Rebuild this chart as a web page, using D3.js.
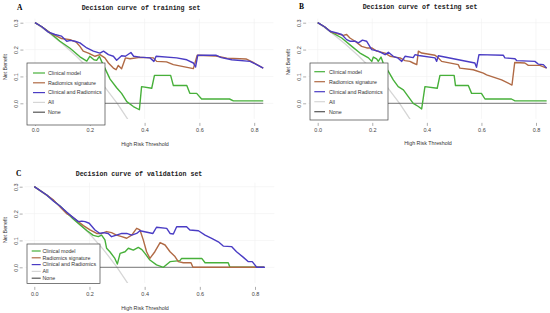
<!DOCTYPE html>
<html>
<head>
<meta charset="utf-8">
<script src="https://cdn.jsdelivr.net/npm/d3@7"></script>
<style>
  body { margin: 0; background: #fff; }
  svg { display: block; }
</style>
</head>
<body>
<svg id="chart" width="550" height="313"></svg>
<script>
// ---- data ----
const ticksX = [0, 0.2, 0.4, 0.6, 0.8];
const ticksY = [0, 0.1, 0.2, 0.3];
const legendNames = ["Clinical model", "Radiomics signature", "Clinical and Radiomics", "All", "None"];
const lineColors = ["#47b03a", "#b06a45", "#4a3cc4", "#d6d6d6", "#555555"];

// treat-all reference line (same in all three sets)
const allLine = [[0, 0.3], [0.05, 0.263], [0.1, 0.222], [0.15, 0.176], [0.2, 0.125], [0.25, 0.067], [0.3, 0.0], [0.35, -0.077]];

// A: training set
const trainClinical = [[0, 0.3], [0.025, 0.285], [0.055, 0.262], [0.091, 0.231], [0.128, 0.205], [0.164, 0.173], [0.189, 0.157],
  [0.2, 0.175], [0.215, 0.162], [0.225, 0.16], [0.235, 0.175], [0.243, 0.156], [0.255, 0.131], [0.274, 0.09], [0.298, 0.058],
  [0.316, 0.037], [0.335, 0.006], [0.359, -0.012], [0.381, -0.024], [0.389, 0.062], [0.426, 0.056], [0.436, 0.104],
  [0.495, 0.104], [0.505, 0.066], [0.554, 0.066], [0.565, 0.037], [0.59, 0.037], [0.608, 0.016], [0.71, 0.016],
  [0.724, 0.009], [0.833, 0.009]];
const trainRadiomics = [[0, 0.3], [0.025, 0.285], [0.055, 0.262], [0.079, 0.25], [0.097, 0.241], [0.128, 0.237], [0.15, 0.228],
  [0.164, 0.212], [0.176, 0.194], [0.195, 0.187], [0.219, 0.175], [0.237, 0.181], [0.255, 0.169], [0.268, 0.15],
  [0.286, 0.131], [0.296, 0.125], [0.304, 0.141], [0.316, 0.129], [0.33, 0.169], [0.347, 0.166], [0.383, 0.171],
  [0.432, 0.169], [0.444, 0.156], [0.48, 0.154], [0.505, 0.144], [0.578, 0.129], [0.592, 0.179], [0.66, 0.176],
  [0.7, 0.168], [0.77, 0.165], [0.8, 0.15], [0.833, 0.131]];
const trainCombined = [[0, 0.3], [0.025, 0.285], [0.049, 0.265], [0.073, 0.256], [0.097, 0.25], [0.116, 0.231], [0.13, 0.234],
  [0.146, 0.231], [0.164, 0.225], [0.189, 0.206], [0.213, 0.194], [0.237, 0.187], [0.25, 0.194], [0.268, 0.181],
  [0.286, 0.175], [0.298, 0.16], [0.316, 0.177], [0.33, 0.175], [0.35, 0.189], [0.36, 0.175], [0.383, 0.172],
  [0.42, 0.169], [0.434, 0.156], [0.442, 0.175], [0.517, 0.169], [0.554, 0.162], [0.578, 0.15], [0.586, 0.135],
  [0.594, 0.179], [0.66, 0.179], [0.68, 0.17], [0.718, 0.162], [0.785, 0.156], [0.809, 0.144], [0.833, 0.131]];

// B: testing set
const testClinical = [[0, 0.3], [0.025, 0.285], [0.045, 0.268], [0.088, 0.243], [0.125, 0.212], [0.155, 0.187], [0.186, 0.169],
  [0.198, 0.156], [0.204, 0.172], [0.216, 0.165], [0.222, 0.156], [0.232, 0.172], [0.24, 0.15], [0.259, 0.119],
  [0.277, 0.087], [0.295, 0.062], [0.314, 0.05], [0.332, 0.025], [0.35, 0.0], [0.369, -0.012], [0.381, -0.021],
  [0.393, 0.062], [0.438, 0.056], [0.448, 0.104], [0.5, 0.104], [0.505, 0.066], [0.552, 0.066], [0.564, 0.037],
  [0.6, 0.037], [0.613, 0.016], [0.71, 0.016], [0.723, 0.009], [0.839, 0.009]];
const testRadiomics = [[0, 0.3], [0.025, 0.285], [0.05, 0.265], [0.094, 0.253], [0.106, 0.256], [0.118, 0.243], [0.137, 0.231],
  [0.161, 0.212], [0.18, 0.206], [0.198, 0.206], [0.216, 0.194], [0.247, 0.187], [0.265, 0.175], [0.283, 0.172],
  [0.302, 0.169], [0.32, 0.159], [0.338, 0.156], [0.35, 0.15], [0.363, 0.144], [0.369, 0.194], [0.381, 0.187],
  [0.43, 0.179], [0.442, 0.169], [0.454, 0.156], [0.515, 0.144], [0.521, 0.131], [0.57, 0.125], [0.607, 0.112],
  [0.619, 0.106], [0.674, 0.087], [0.712, 0.068], [0.722, 0.152], [0.759, 0.15], [0.772, 0.141], [0.814, 0.141],
  [0.839, 0.131]];
const testCombined = [[0, 0.3], [0.025, 0.285], [0.045, 0.268], [0.07, 0.262], [0.088, 0.256], [0.106, 0.237], [0.118, 0.231],
  [0.137, 0.231], [0.149, 0.225], [0.164, 0.235], [0.179, 0.231], [0.198, 0.2], [0.222, 0.194], [0.247, 0.181],
  [0.259, 0.19], [0.277, 0.175], [0.295, 0.168], [0.308, 0.156], [0.32, 0.175], [0.35, 0.17], [0.357, 0.181],
  [0.37, 0.178], [0.43, 0.169], [0.436, 0.156], [0.442, 0.177], [0.576, 0.15], [0.582, 0.134], [0.591, 0.181],
  [0.68, 0.179], [0.686, 0.169], [0.723, 0.166], [0.729, 0.159], [0.796, 0.156], [0.808, 0.146], [0.827, 0.144],
  [0.839, 0.131]];

// C: validation set
const valClinical = [[0, 0.3], [0.045, 0.269], [0.07, 0.248], [0.093, 0.228], [0.105, 0.216], [0.117, 0.203], [0.141, 0.18],
  [0.166, 0.158], [0.19, 0.137], [0.214, 0.119], [0.232, 0.114], [0.244, 0.12], [0.256, 0.102], [0.262, 0.071],
  [0.274, 0.058], [0.292, 0.033], [0.301, 0.012], [0.311, 0.052], [0.329, 0.058], [0.341, 0.071], [0.359, 0.064],
  [0.377, 0.074], [0.39, 0.066], [0.401, 0.052], [0.419, 0.027], [0.443, 0.009], [0.468, 0.0], [0.492, 0.021],
  [0.528, 0.025], [0.534, 0.033], [0.607, 0.033], [0.619, 0.017], [0.703, 0.017], [0.709, 0.0], [0.833, 0.0]];
const valRadiomics = [[0, 0.3], [0.045, 0.269], [0.07, 0.25], [0.081, 0.238], [0.099, 0.219], [0.117, 0.2], [0.135, 0.19],
  [0.153, 0.175], [0.178, 0.155], [0.202, 0.139], [0.226, 0.126], [0.244, 0.126], [0.262, 0.133], [0.28, 0.129],
  [0.298, 0.12], [0.317, 0.114], [0.335, 0.108], [0.353, 0.12], [0.371, 0.145], [0.383, 0.139], [0.395, 0.102],
  [0.407, 0.058], [0.419, 0.033], [0.437, 0.058], [0.456, 0.092], [0.474, 0.083], [0.492, 0.058], [0.51, 0.04],
  [0.522, 0.021], [0.54, 0.017], [0.568, 0.017], [0.575, 0.0], [0.833, 0.0]];
const valCombined = [[0, 0.3], [0.045, 0.269], [0.07, 0.246], [0.093, 0.228], [0.117, 0.206], [0.141, 0.185], [0.16, 0.17],
  [0.172, 0.172], [0.184, 0.17], [0.199, 0.164], [0.22, 0.139], [0.238, 0.126], [0.25, 0.129], [0.268, 0.126],
  [0.28, 0.114], [0.298, 0.12], [0.317, 0.126], [0.335, 0.126], [0.353, 0.12], [0.371, 0.126], [0.383, 0.136],
  [0.43, 0.126], [0.443, 0.149], [0.48, 0.145], [0.492, 0.126], [0.504, 0.124], [0.516, 0.151], [0.552, 0.151],
  [0.564, 0.139], [0.595, 0.136], [0.619, 0.12], [0.643, 0.108], [0.667, 0.095], [0.685, 0.079], [0.715, 0.077],
  [0.733, 0.058], [0.758, 0.037], [0.776, 0.021], [0.79, 0.021], [0.806, 0.0], [0.836, 0.0]];

const svg = d3.select('#chart');

function drawPanel(p, idx) {
    const x = d3.scaleLinear().domain([0, 0.8]).range(p.xr);
    const y = d3.scaleLinear().domain([0, 0.3]).range(p.yr);
    const g = svg.append('g');

    const left = x(-0.035), right = x(0.87), top = y(0.315), bottom = y(-0.058);

    g.append('clipPath').attr('id', 'clip' + idx)
        .append('rect').attr('x', left).attr('y', top)
        .attr('width', right - left).attr('height', bottom - top);

    // faint grid
    g.selectAll('.vg').data(ticksX).enter().append('line')
        .attr('x1', d => x(d)).attr('x2', d => x(d)).attr('y1', top).attr('y2', bottom)
        .attr('stroke', '#f0f0f0').attr('stroke-width', 0.6);
    g.selectAll('.hg').data(ticksY).enter().append('line')
        .attr('x1', left).attr('x2', right).attr('y1', d => y(d)).attr('y2', d => y(d))
        .attr('stroke', '#f0f0f0').attr('stroke-width', 0.6);

    // axes
    const xAxis = g.append('g').attr('transform', `translate(0,${bottom + 4})`)
        .call(d3.axisBottom(x).tickValues(ticksX).tickFormat(d3.format('.1f')).tickSize(3).tickPadding(2.5));
    const yAxis = g.append('g').attr('transform', `translate(${left - 2},0)`)
        .call(d3.axisLeft(y).tickValues(ticksY).tickFormat(d3.format('.1f')).tickSize(3));
    [xAxis, yAxis].forEach(a => {
        a.select('.domain').remove();
        a.selectAll('line').attr('stroke', '#777').attr('stroke-width', 0.6);
        a.selectAll('text').attr('fill', '#444')
            .style('font-family', 'Liberation Sans, Arial, sans-serif').style('font-size', '5.5px');
    });
    yAxis.selectAll('text')
        .attr('transform', 'rotate(-90)').attr('x', 0).attr('y', -5).attr('dy', 0)
        .attr('text-anchor', 'middle');

    // curves
    const line = d3.line().x(d => x(d[0])).y(d => y(d[1]));
    const curves = g.append('g').attr('clip-path', `url(#clip${idx})`);
    curves.append('path').datum(allLine).attr('d', line)
        .attr('fill', 'none').attr('stroke', lineColors[3]).attr('stroke-width', 1.3);
    curves.append('path').datum([[0, 0], [p.end, 0]]).attr('d', line)
        .attr('fill', 'none').attr('stroke', lineColors[4]).attr('stroke-width', 0.8);
    p.series.forEach((s, i) => {
        curves.append('path').datum(s).attr('d', line)
            .attr('fill', 'none').attr('stroke', lineColors[i])
            .attr('stroke-width', 1.4).attr('stroke-linejoin', 'round');
    });

    // labels
    g.append('text').attr('x', p.letter[1]).attr('y', p.letter[2]).text(p.letter[0])
        .style('font-family', 'Liberation Serif, serif').style('font-weight', 'bold').style('font-size', '7.5px');
    g.append('text').attr('x', p.title[1]).attr('y', p.title[2]).attr('text-anchor', 'middle').text(p.title[0])
        .style('font-family', 'Liberation Mono, monospace').style('font-weight', 'bold').style('font-size', '6.6px')
        .attr('fill', '#222');
    g.append('text').attr('x', p.xlab[0]).attr('y', p.xlab[1]).attr('text-anchor', 'middle').text('High Risk Threshold')
        .style('font-family', 'Liberation Sans, Arial, sans-serif').style('font-size', '5.3px').attr('fill', '#333');
    g.append('text').attr('transform', `translate(${p.ylab[0]},${p.ylab[1]}) rotate(-90)`)
        .attr('text-anchor', 'middle').text('Net Benefit')
        .style('font-family', 'Liberation Sans, Arial, sans-serif').style('font-size', '5.3px').attr('fill', '#333');

    // legend
    const L = p.legend;
    const lg = g.append('g');
    lg.append('rect').attr('x', L.x).attr('y', L.y).attr('width', L.w).attr('height', L.h)
        .attr('fill', '#fff').attr('stroke', '#444').attr('stroke-width', 0.7);
    legendNames.forEach((name, i) => {
        const yy = L.y + L.first + i * L.step;
        lg.append('line').attr('x1', L.l0).attr('x2', L.l1).attr('y1', yy).attr('y2', yy)
            .attr('stroke', lineColors[i]).attr('stroke-width', 1.2);
        lg.append('text').attr('x', L.tx).attr('y', yy).attr('dy', '0.35em').text(name)
            .style('font-family', 'Liberation Sans, Arial, sans-serif').style('font-size', '5.3px').attr('fill', '#333');
    });
}

const panels = [
    { letter: ['A', 17, 9.5], title: ['Decision curve of training set', 141, 9.5],
      xr: [35, 254.2], yr: [103.3, 22.7], end: 0.833,
      series: [trainClinical, trainRadiomics, trainCombined],
      xlab: [145, 146], ylab: [7, 67],
      legend: { x: 27, y: 63, w: 78, h: 62, first: 10, step: 9.8, l0: 33, l1: 45, tx: 48 } },
    { letter: ['B', 299, 9], title: ['Decision curve of testing set', 420, 9],
      xr: [317.7, 536], yr: [103.3, 22.7], end: 0.839,
      series: [testClinical, testRadiomics, testCombined],
      xlab: [428, 145.3], ylab: [289.5, 62],
      legend: { x: 310, y: 63, w: 78, h: 57, first: 8.7, step: 10, l0: 314.3, l1: 325, tx: 329 } },
    { letter: ['C', 16, 175.5], title: ['Decision curve of validation set', 139, 175.5],
      xr: [34.3, 255], yr: [267.3, 186.7], end: 0.833,
      series: [valClinical, valRadiomics, valCombined],
      xlab: [145, 310.3], ylab: [7, 230],
      legend: { x: 27, y: 244, w: 73, h: 39.5, first: 7, step: 6.8, l0: 31.7, l1: 40.7, tx: 42.5 } }
];

panels.forEach((p, i) => drawPanel(p, i));
</script>
</body>
</html>
